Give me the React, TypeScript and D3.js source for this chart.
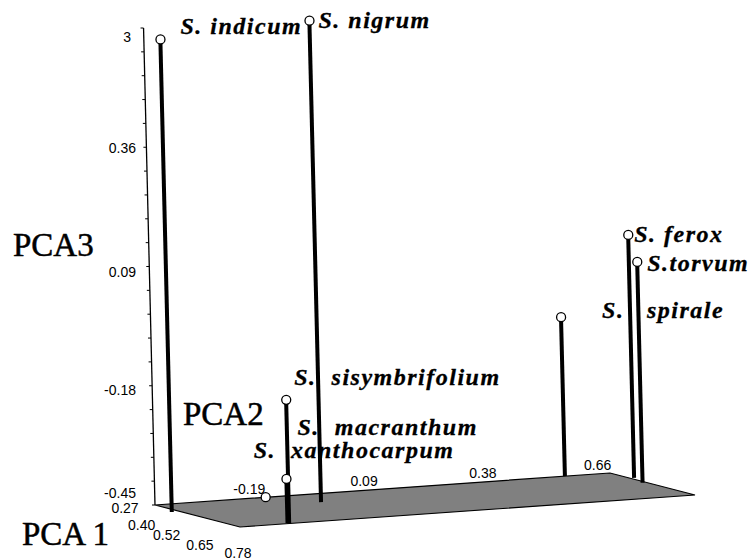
import * as d3 from "d3";
import React from "react";

// species scores on the first three principal components
const species = [
  "S. indicum",
  "S. nigrum",
  "S. ferox",
  "S.torvum",
  "S.   spirale",
  "S.  sisymbrifolium",
  "S.  macranthum",
  "S.  xanthocarpum",
];
const pca1 = [0.42, 0.43, 0.39, 0.49, 0.27, 0.78, 0.77, 0.27];
const pca2 = [-0.44, -0.08, 0.7, 0.68, 0.58, -0.3, -0.3, -0.15];
const pca3 = [0.62, 0.64, 0.1, 0.05, -0.09, -0.17, -0.35, -0.45];

const pca1Ticks = [0.27, 0.4, 0.52, 0.65, 0.78];
const pca2Ticks = [-0.19, 0.09, 0.38, 0.66];
const pca3Ticks = [-0.45, -0.18, 0.09, 0.36, 0.63];
const pca3TickLabels = ["-0.45", "-0.18", "0.09", "0.36", "3"];

// layout
const W = 752;
const H = 560;
const ORIGIN: [number, number] = [155, 505];
const E1 = [85, 22];
const E2 = [455, -32];
const LEAN = 0.024;
const labelOffsets = [
  [20, -5],
  [9, 7],
  [6, 7],
  [10, 9],
  [41, 1],
  [8, -15],
  [11, -44],
  [-12, -39],
];
const pca3LabelNudge = [
  [0, -7],
  [0, 9],
  [0, 10],
  [0, 6],
  [-5, 14],
];

const f1 = d3.scaleLinear().domain([0.27, 0.78]).range([0, 1]);
const f2 = d3.scaleLinear().domain([-0.42, 0.69]).range([0, 1]);
const hz = d3.scaleLinear().domain([-0.45, 0.63]).range([0, 477]);

const proj = (a: number, b: number, c: number): [number, number] => {
  const u = f1(a);
  const v = f2(b);
  const h = hz(c);
  return [
    ORIGIN[0] + E1[0] * u + E2[0] * v - LEAN * h,
    ORIGIN[1] + E1[1] * u + E2[1] * v - h,
  ];
};

// pc1 labels sit on a curve below the front-left edge
const pc1LabelX = d3.scalePow().exponent(1.4).domain([0, 0.51]).range([125, 238]);
const pc1LabelY = d3.scalePow().exponent(0.7).domain([0, 0.51]).range([513, 558]);

const sans = "'Liberation Sans', Arimo, Arial, sans-serif";
const serif = "'Times New Roman', Tinos, 'Liberation Serif', 'DejaVu Serif', serif";

const App = () => {
  const [d1lo, d1hi] = f1.domain();
  const [d2lo, d2hi] = f2.domain();
  const zlo = hz.domain()[0];
  const zhi = hz.domain()[1];
  const floor = [
    proj(d1lo, d2lo, zlo),
    proj(d1hi, d2lo, zlo),
    proj(d1hi, d2hi, zlo),
    proj(d1lo, d2hi, zlo),
  ];
  const axisBottom = proj(d1lo, d2lo, zlo);
  const axisTop = proj(d1lo, d2lo, zhi);
  const minor = d3.range(zlo, zhi + 0.001, 0.054);

  const points = species.map((name, i) => ({
    name,
    top: proj(pca1[i], pca2[i], pca3[i]),
    base: proj(pca1[i], pca2[i], zlo),
    off: labelOffsets[i],
  }));

  return (
    <svg
      width={W}
      height={H}
      style={{ position: "absolute", left: 0, top: 0, background: "#fff" }}
    >
      <polygon
        points={floor.map((p) => p.join(",")).join(" ")}
        fill="#808080"
        stroke="#000"
        strokeWidth={1.2}
      />
      <line
        x1={axisBottom[0]}
        y1={axisBottom[1]}
        x2={axisTop[0]}
        y2={axisTop[1]}
        stroke="#000"
        strokeWidth={1.3}
      />
      {minor.map((t, i) => {
        const p = proj(d1lo, d2lo, t);
        return (
          <line key={i} x1={p[0] - 3} y1={p[1]} x2={p[0]} y2={p[1]} stroke="#000" strokeWidth={1} />
        );
      })}
      <g style={{ fontFamily: sans, fontSize: 14 }}>
        {pca3Ticks.map((t, i) => {
          const p = proj(d1lo, d2lo, t);
          return (
            <text
              key={i}
              x={136 + pca3LabelNudge[i][0]}
              y={p[1] + pca3LabelNudge[i][1]}
              textAnchor="end"
            >
              {pca3TickLabels[i]}
            </text>
          );
        })}
        {pca2Ticks.map((t, i) => {
          const p = proj(d1lo, t, zlo);
          return (
            <text key={i} x={p[0]} y={p[1] - 4} textAnchor="middle">
              {t.toFixed(2)}
            </text>
          );
        })}
        {pca1Ticks.map((t, i) => (
          <text key={i} x={pc1LabelX(t - d1lo)} y={pc1LabelY(t - d1lo)} textAnchor="middle">
            {t.toFixed(2)}
          </text>
        ))}
      </g>
      {points.map((d, i) => (
        <line
          key={i}
          x1={d.top[0]}
          y1={d.top[1] + 4}
          x2={d.base[0]}
          y2={d.base[1]}
          stroke="#000"
          strokeWidth={4}
        />
      ))}
      {points.map((d, i) => (
        <circle
          key={i}
          cx={d.top[0]}
          cy={d.top[1]}
          r={4.5}
          fill="#fff"
          stroke="#000"
          strokeWidth={1.3}
        />
      ))}
      {points.map((d, i) => (
        <text
          key={i}
          x={d.top[0] + d.off[0]}
          y={d.top[1] + d.off[1]}
          stroke="#000"
          strokeWidth={0.3}
          style={{
            fontFamily: serif,
            fontWeight: "bold",
            fontStyle: "italic",
            fontSize: 24,
            letterSpacing: 1.5,
            whiteSpace: "pre",
          }}
        >
          {d.name}
        </text>
      ))}
      <g style={{ fontFamily: serif, fontSize: 33 }} stroke="#000" strokeWidth={0.5}>
        <text x={13} y={256}>
          PCA3
        </text>
        <text x={183} y={425}>
          PCA2
        </text>
        <text x={22} y={545}>
          PCA 1
        </text>
      </g>
    </svg>
  );
};

export default App;
